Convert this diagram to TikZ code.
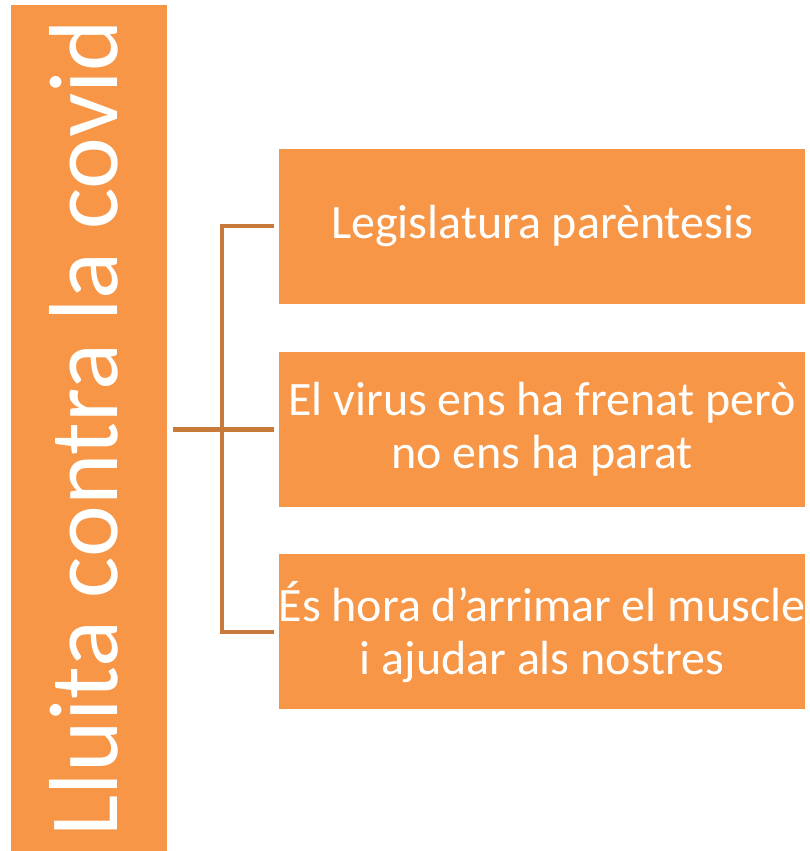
\documentclass[tikz,border=0pt]{standalone}
\usepackage{fontspec}
\setmainfont{Carlito}
\usetikzlibrary{positioning}

\definecolor{boxorange}{RGB}{247,150,70}
\definecolor{linkbrown}{RGB}{199,122,58}

\begin{document}
\begin{tikzpicture}[x=1pt, y=-1pt,
  titlebox/.style={fill=boxorange, text=white, rotate=90, inner sep=0pt,
    minimum width=846pt, minimum height=156pt, text height=70pt, text depth=14pt,
    font=\fontsize{98}{98}\selectfont},
  topic/.style={fill=boxorange, text=white, inner sep=0pt, align=center,
    minimum width=526pt, minimum height=155pt, font=\fontsize{48}{53}\selectfont},
  link/.style={draw=linkbrown, line width=4.5pt}]
\useasboundingbox (0,0) rectangle (809,851);

% left column
\node[titlebox] (title) at (89,428) {Lluita contra la covid};

% the three topics
\node[topic] (legis) at (542,226) {Legislatura parèntesis};
\node[topic, below=48pt of legis] (virus) {El virus ens ha frenat però\\no ens ha parat};
\node[topic, below=47pt of virus] (muscle) {És hora d’arrimar el muscle\\i ajudar als nostres};

% bracket
\coordinate (fork) at (222,428);
\draw[link] ([xshift=6pt]title.south |- virus.west) -- ([xshift=-5pt]virus.west);
\draw[link] ([xshift=-5pt]legis.west) -| (fork) |- ([xshift=-5pt]muscle.west);
\end{tikzpicture}
\end{document}
